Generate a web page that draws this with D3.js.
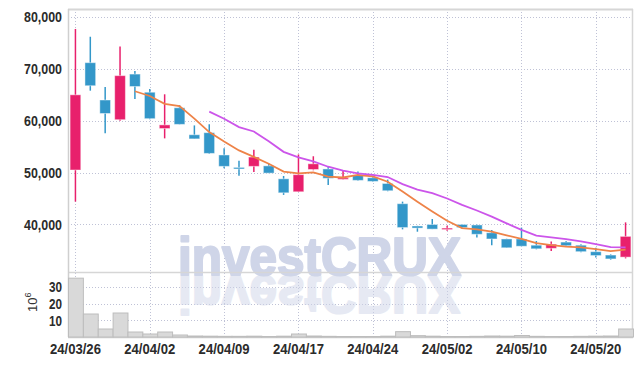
<!DOCTYPE html>
<html>
<head>
<meta charset="utf-8">
<script src="https://cdn.jsdelivr.net/npm/d3@7"></script>
<style>
  body { margin: 0; background: #fff; }
  svg { display: block; }
</style>
</head>
<body>
<div id="chart"></div>
<script>
// daily OHLC (KRW) and volume (10^6 shares)
var dates = ["24/03/26", "24/03/27", "24/03/28", "24/03/29", "24/04/01", "24/04/02", "24/04/03", "24/04/04",
    "24/04/05", "24/04/08", "24/04/09", "24/04/11", "24/04/12", "24/04/15", "24/04/16", "24/04/17",
    "24/04/18", "24/04/19", "24/04/22", "24/04/23", "24/04/24", "24/04/25", "24/04/26", "24/04/29",
    "24/04/30", "24/05/02", "24/05/03", "24/05/07", "24/05/08", "24/05/09", "24/05/10", "24/05/13",
    "24/05/14", "24/05/16", "24/05/17", "24/05/20", "24/05/21", "24/05/22"];
var opens = [50500, 71200, 64000, 60200, 69000, 65500, 58500, 62500, 57300, 57700, 53400, 51000, 51200,
    51300, 48800, 46300, 50600, 50700, 48700, 49500, 49000, 47900, 44000, 39700, 40000, 39200, 40000,
    39900, 38400, 37200, 37200, 36000, 35400, 36600, 36000, 34750, 34100, 33700];
var highs = [77700, 76200, 66500, 74300, 69600, 66100, 65100, 63000, 59100, 59300, 54700, 52300, 54400,
    51700, 49350, 53500, 53150, 51150, 50400, 50200, 49400, 48650, 44400, 39750, 41050, 39750, 40050,
    40000, 38950, 37250, 39400, 36800, 36700, 36800, 36200, 35500, 34250, 40400];
var lows = [44400, 65800, 57600, 60000, 64200, 60300, 56600, 59300, 56500, 53600, 50850, 49400, 50100,
    49900, 45700, 46300, 50450, 47600, 48650, 48450, 48250, 46400, 39050, 38600, 39100, 38800, 39200,
    37500, 36000, 35500, 35800, 35200, 34900, 35700, 34650, 33650, 33200, 33450];
var closes = [65000, 66750, 61400, 68700, 66600, 60400, 59200, 59300, 56500, 53700, 51200, 50700, 53000,
    49900, 46100, 49600, 51700, 48900, 49000, 48500, 48300, 46500, 39400, 39300, 39100, 39300, 39400,
    38100, 37200, 35500, 35800, 35300, 36200, 35900, 34750, 34000, 33350, 37700];
var volumes = [35.3, 13.8, 4.8, 14.4, 3.0, 1.8, 3.0, 1.2, 0.6, 0.5, 0.4, 0.4, 0.5, 0.3, 0.5, 1.8, 0.6,
    0.4, 0.3, 0.3, 0.3, 0.5, 3.2, 0.8, 0.5, 0.3, 0.3, 0.4, 0.6, 0.5, 0.9, 0.4, 0.3, 0.3, 0.4, 0.5, 0.6, 4.8];

var priceTicks = [40000, 50000, 60000, 70000, 80000];
var volTicks = [10, 20, 30];
var dateTicks = ["24/03/26", "24/04/02", "24/04/09", "24/04/17", "24/04/24", "24/05/02", "24/05/10", "24/05/20"];
var maPeriods = [5, 10];

var width = 642, height = 366;
var plotL = 68, plotR = 633, plotT = 9, plotSplit = 272, plotB = 337;

var upColor = "#e8206c", downColor = "#3397c9";
var maColors = ["#ee8348", "#cc55ea"];
var gridColor = "#bfc2d6";
var font = "'Liberation Sans', Arial, sans-serif";

var svg = d3.select("#chart").append("svg")
    .attr("width", width)
    .attr("height", height);

var x = d3.scaleBand().domain(dates).range([plotL, plotR]).padding(0);
var cx = function (d) { return x(d) + x.bandwidth() / 2; };

var y = d3.scaleLinear().domain([30830, 81550]).range([plotSplit, plotT]);
var yv = d3.scaleLinear().domain([0, 39]).range([plotB, plotSplit]);

// grid
var grid = svg.append("g")
    .attr("stroke", gridColor)
    .attr("stroke-dasharray", "1,2")
    .attr("stroke-width", 1);

grid.selectAll(".hp").data(priceTicks).enter().append("line")
    .attr("x1", plotL).attr("x2", plotR)
    .attr("y1", function (d) { return Math.round(y(d)) + 0.5; })
    .attr("y2", function (d) { return Math.round(y(d)) + 0.5; });
grid.selectAll(".hv").data(volTicks).enter().append("line")
    .attr("x1", plotL).attr("x2", plotR)
    .attr("y1", function (d) { return Math.round(yv(d)) + 0.5; })
    .attr("y2", function (d) { return Math.round(yv(d)) + 0.5; });
grid.selectAll(".vx").data(dateTicks).enter().append("line")
    .attr("x1", function (d) { return Math.round(cx(d)) + 0.5; })
    .attr("x2", function (d) { return Math.round(cx(d)) + 0.5; })
    .attr("y1", plotT).attr("y2", plotB);

// watermark with reflection
var wm = svg.append("g").attr("font-family", "'Liberation Sans', Arial, sans-serif")
    .attr("font-weight", "bold").attr("font-size", 54)
    .attr("fill", "#cfd5e8").attr("stroke", "#cfd5e8").attr("stroke-width", 2.2)
    .attr("stroke-linejoin", "round");
wm.append("text")
    .attr("x", 178).attr("y", 275)
    .attr("textLength", 283).attr("lengthAdjust", "spacingAndGlyphs")
    .text("investCRUX");
wm.append("text")
    .attr("x", 178).attr("y", -276)
    .attr("transform", "scale(1,-1)")
    .attr("textLength", 283).attr("lengthAdjust", "spacingAndGlyphs")
    .attr("opacity", 0.5)
    .text("investCRUX");

// frame
var frame = svg.append("g").attr("fill", "none");
frame.append("line").attr("x1", plotL).attr("x2", plotR).attr("y1", plotT + 0.5).attr("y2", plotT + 0.5)
    .attr("stroke", "#d6d6d6").attr("stroke-width", 2);
frame.append("line").attr("x1", plotL).attr("x2", plotR).attr("y1", plotSplit + 0.5).attr("y2", plotSplit + 0.5)
    .attr("stroke", "#d6d6d6").attr("stroke-width", 1.5);
frame.append("line").attr("x1", plotL).attr("x2", plotR).attr("y1", plotB + 0.5).attr("y2", plotB + 0.5)
    .attr("stroke", "#cfcfcf").attr("stroke-width", 1.5);
frame.append("line").attr("x1", plotL + 0.5).attr("x2", plotL + 0.5).attr("y1", plotT).attr("y2", plotB)
    .attr("stroke", "#cfcfcf").attr("stroke-width", 1.5);
frame.append("line").attr("x1", plotR - 0.5).attr("x2", plotR - 0.5).attr("y1", plotT).attr("y2", plotB)
    .attr("stroke", "#d6d6d6").attr("stroke-width", 1.5);

// volume bars
svg.append("g").selectAll("rect").data(volumes).enter().append("rect")
    .attr("x", function (d, i) { return x(dates[i]) + 0.5; })
    .attr("y", function (d) { return yv(d); })
    .attr("width", x.bandwidth())
    .attr("height", function (d) { return plotB - yv(d); })
    .attr("fill", "#d9d9d9")
    .attr("stroke", "#bdbdbd")
    .attr("stroke-width", 1);

// candles
var bodyW = x.bandwidth() * 0.72;
var candles = svg.append("g").selectAll("g").data(dates).enter().append("g");

candles.append("line")
    .attr("x1", function (d) { return cx(d); })
    .attr("x2", function (d) { return cx(d); })
    .attr("y1", function (d, i) { return y(highs[i]); })
    .attr("y2", function (d, i) { return y(lows[i]); })
    .attr("stroke", function (d, i) { return closes[i] >= opens[i] ? upColor : downColor; })
    .attr("stroke-width", 1.5);

candles.append("rect")
    .attr("x", function (d) { return cx(d) - bodyW / 2; })
    .attr("y", function (d, i) { return y(Math.max(opens[i], closes[i])); })
    .attr("width", bodyW)
    .attr("height", function (d, i) { return Math.max(1.5, Math.abs(y(opens[i]) - y(closes[i]))); })
    .attr("fill", function (d, i) { return closes[i] >= opens[i] ? upColor : downColor; })
    .attr("stroke", "#ffffff").attr("stroke-opacity", 0.45).attr("stroke-width", 1);

// moving averages of the closing price
maPeriods.forEach(function (n, k) {
    var pts = [];
    closes.forEach(function (c, i) {
        if (i < n - 1) return;
        pts.push([cx(dates[i]), y(d3.mean(closes.slice(i - n + 1, i + 1)))]);
    });
    svg.append("path")
        .attr("d", d3.line()(pts))
        .attr("fill", "none")
        .attr("stroke", maColors[k])
        .attr("stroke-width", 1.8);
});

// axis labels (condensed look via textLength)
var labels = svg.append("g").attr("font-family", font).attr("font-weight", "bold")
    .attr("font-size", 15).attr("fill", "#2b2b2b");

labels.selectAll(".yp").data(priceTicks).enter().append("text")
    .attr("x", 62).attr("y", function (d) { return y(d); }).attr("dy", "0.36em")
    .attr("text-anchor", "end")
    .attr("textLength", 38).attr("lengthAdjust", "spacingAndGlyphs")
    .text(d3.format(","));

labels.selectAll(".yv").data(volTicks).enter().append("text")
    .attr("x", 62).attr("y", function (d) { return yv(d); }).attr("dy", "0.36em")
    .attr("text-anchor", "end")
    .attr("textLength", 13).attr("lengthAdjust", "spacingAndGlyphs")
    .text(function (d) { return d; });

labels.selectAll(".xd").data(dateTicks).enter().append("text")
    .attr("x", function (d) { return cx(d); }).attr("y", 354)
    .attr("text-anchor", "middle")
    .attr("textLength", 51).attr("lengthAdjust", "spacingAndGlyphs")
    .text(function (d) { return d; });

var unit = svg.append("text")
    .attr("transform", "translate(37,312) rotate(-90)")
    .attr("font-family", "'Liberation Sans', sans-serif")
    .attr("font-size", 13).attr("fill", "#333");
unit.append("tspan").text("10");
unit.append("tspan").attr("dy", -6).attr("font-size", 9).text("6");
</script>
</body>
</html>
